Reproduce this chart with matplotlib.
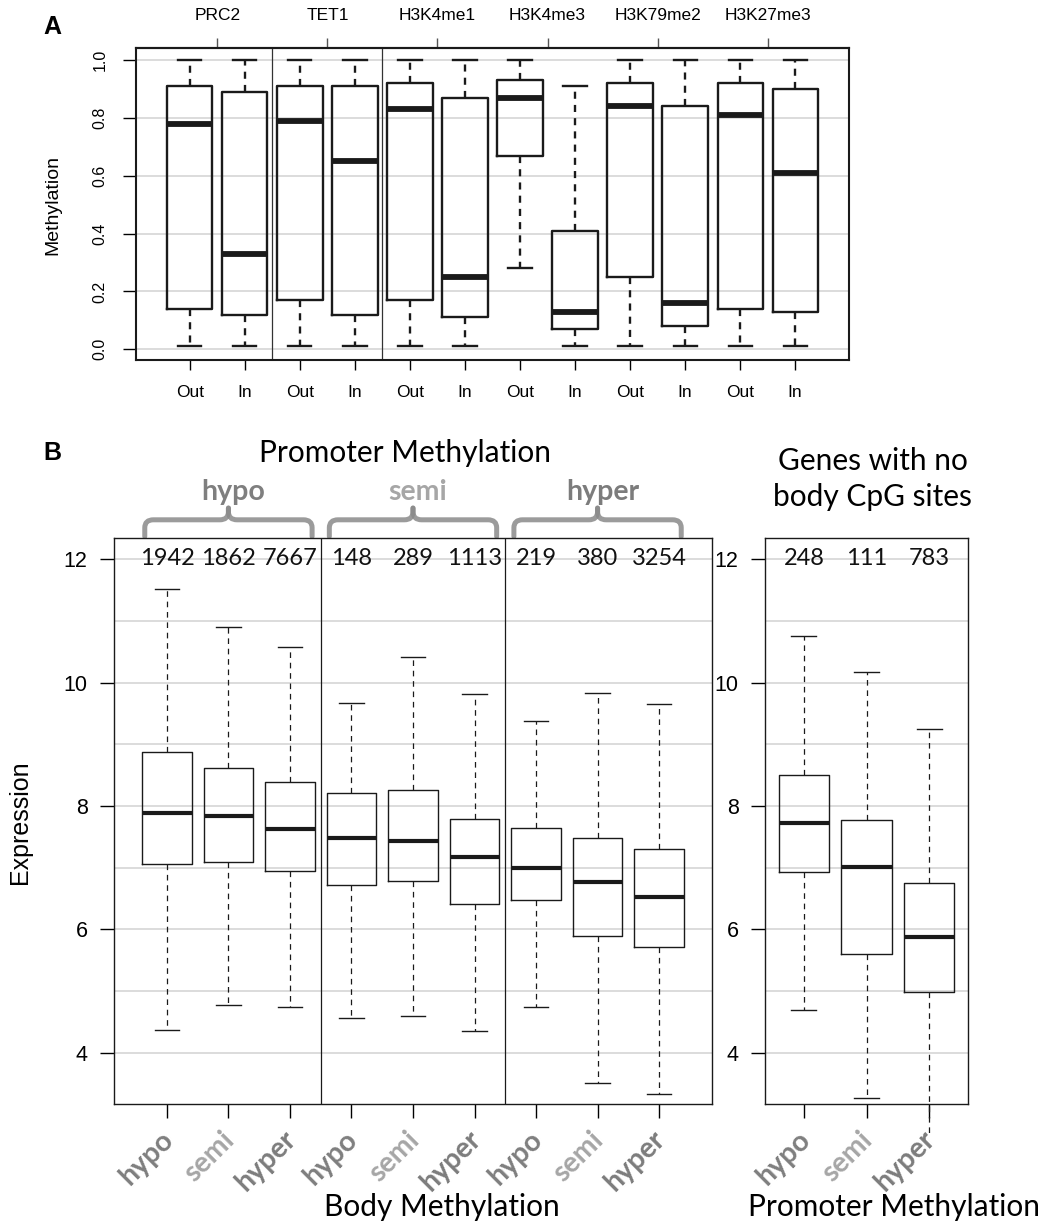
import numpy as np
import matplotlib.pyplot as plt
from matplotlib.path import Path
from matplotlib.patches import PathPatch

# ---------------------------------------------
# data
# ---------------------------------------------
# panel A: methylation inside / outside marks
A_groups = ["PRC2", "TET1", "H3K4me1", "H3K4me3", "H3K79me2", "H3K27me3"]
A_box_labels = ["Out", "In"] * 6
A_med = [0.78, 0.33, 0.79, 0.65, 0.83, 0.25, 0.87, 0.13, 0.84, 0.16, 0.81, 0.61]
A_q1 = [0.14, 0.12, 0.17, 0.12, 0.17, 0.11, 0.67, 0.07, 0.25, 0.08, 0.14, 0.13]
A_q3 = [0.91, 0.89, 0.91, 0.91, 0.92, 0.87, 0.93, 0.41, 0.92, 0.84, 0.92, 0.90]
A_lo = [0.01, 0.01, 0.01, 0.01, 0.01, 0.01, 0.28, 0.01, 0.01, 0.01, 0.01, 0.01]
A_hi = [1.0, 1.0, 1.0, 1.0, 1.0, 1.0, 1.0, 0.91, 1.0, 1.0, 1.0, 1.0]

# panel B: expression by body methylation, grouped by promoter methylation
levels = ["hypo", "semi", "hyper"]
level_colors = {"hypo": "#7f7f7f", "semi": "#a6a6a6", "hyper": "#7c7c7c"}
B_med = [7.89, 7.84, 7.63, 7.49, 7.44, 7.18, 7.00, 6.77, 6.53]
B_q1 = [7.06, 7.09, 6.94, 6.72, 6.79, 6.41, 6.47, 5.90, 5.71]
B_q3 = [8.875, 8.62, 8.39, 8.21, 8.26, 7.79, 7.64, 7.49, 7.30]
B_lo = [4.37, 4.78, 4.74, 4.56, 4.59, 4.36, 4.75, 3.51, 3.33]
B_hi = [11.52, 10.91, 10.57, 9.67, 10.42, 9.82, 9.38, 9.84, 9.66]
B_n = [1942, 1862, 7667, 148, 289, 1113, 219, 380, 3254]

# genes with no body CpG sites, by promoter methylation
C_med = [7.73, 7.01, 5.88]
C_q1 = [6.93, 5.60, 4.99]
C_q3 = [8.50, 7.77, 6.75]
C_lo = [4.69, 3.27, 2.70]
C_hi = [10.76, 10.17, 9.25]
C_n = [248, 111, 783]

W, H = 1046, 1222
INK = "#1a1a1a"
GRID = "#d2d2d2"
SANS = "Liberation Sans"
HUM = "Lato"
plt.rcParams["font.family"] = SANS


def make_stats(med, q1, q3, lo, hi):
    return [dict(med=m, q1=a, q3=b, whislo=l, whishi=h)
            for m, a, b, l, h in zip(med, q1, q3, lo, hi)]


fig = plt.figure(figsize=(W / 100, H / 100), dpi=100)

# ---------------------------------------------
# Panel A
# ---------------------------------------------
axA = fig.add_axes([136 / W, 1 - 360 / H, 713 / W, 312 / H])
posA = np.arange(1, len(A_med) + 1)
axA.bxp(make_stats(A_med, A_q1, A_q3, A_lo, A_hi), positions=posA,
        widths=0.82, capwidths=0.42, showfliers=False,
        boxprops=dict(color=INK, lw=1.7),
        medianprops=dict(color=INK, lw=4.2, solid_capstyle="butt"),
        whiskerprops=dict(color=INK, lw=1.7, linestyle=(0, (3, 2.6))),
        capprops=dict(color=INK, lw=1.7))
axA.set_xlim(0.02, 12.98)
axA.set_ylim(-0.037, 1.042)
yt = np.arange(0, 1.01, 0.2)
axA.set_yticks(yt, [f"{v:.1f}" for v in yt])
axA.tick_params(axis="y", length=9.4, width=1, pad=11, labelsize=11.5,
                labelrotation=90)
for lab in axA.get_yticklabels():
    lab.set_va("center")
axA.set_xticks(posA, A_box_labels)
axA.tick_params(axis="x", length=7, width=1, pad=11, labelsize=12.5)
axA.grid(axis="y", color=GRID, lw=1.1)
axA.set_axisbelow(True)
for s in axA.spines.values():
    s.set_linewidth(1.5)
    s.set_color(INK)
for x in [2.5, 4.5]:
    axA.axvline(x, color="#333333", lw=0.9)

secA = axA.secondary_xaxis("top")
secA.set_xticks(np.arange(len(A_groups)) * 2 + 1.5, A_groups)
secA.tick_params(length=7, width=1, pad=11, labelsize=12.5, color="#555555")
secA.spines["top"].set_linewidth(1.5)

fig.text(53 / W, 1 - 205 / H, "Methylation", rotation=90, ha="center",
         va="center", fontsize=14)
fig.text(52 / W, 1 - 27 / H, "A", ha="center", va="center", fontsize=18,
         fontweight="bold")

# ---------------------------------------------
# Panel B
# ---------------------------------------------
axB = fig.add_axes([114 / W, 1 - 1104 / H, 598 / W, 566 / H])
axC = fig.add_axes([765 / W, 1 - 1104 / H, 203 / W, 566 / H])

box_style = dict(widths=0.8, capwidths=0.4, showfliers=False,
                 boxprops=dict(color=INK, lw=1.0),
                 medianprops=dict(color=INK, lw=3.0, solid_capstyle="butt"),
                 whiskerprops=dict(color=INK, lw=0.9, linestyle=(0, (4.5, 3.8))),
                 capprops=dict(color=INK, lw=1.0))

posB = np.arange(1, len(B_med) + 1)
posC = np.arange(1, len(C_med) + 1)
axB.bxp(make_stats(B_med, B_q1, B_q3, B_lo, B_hi), positions=posB, **box_style)
artC = axC.bxp(make_stats(C_med, C_q1, C_q3, C_lo, C_hi), positions=posC,
               **box_style)
# the last lower whisker runs out of the plot region
artC["whiskers"][-2].set_clip_on(False)
artC["caps"][-2].set_visible(False)

axB.set_xlim(0.14, len(B_med) + 0.86)
axC.set_xlim(0.38, len(C_med) + 0.62)

for ax, pos, counts in [(axB, posB, B_n), (axC, posC, C_n)]:
    ax.set_ylim(3.17, 12.345)
    ax.set_yticks([4, 6, 8, 10, 12])
    ax.set_yticks(np.arange(4, 13), minor=True)
    ax.tick_params(axis="y", which="major", length=10, width=1, pad=9,
                   labelsize=15.5)
    ax.tick_params(axis="y", which="minor", length=0)
    ax.grid(axis="y", which="both", color=GRID, lw=1.1)
    ax.set_axisbelow(True)
    ax.set_xticks(pos, [])
    ax.tick_params(axis="x", length=10, width=1)
    for s in ax.spines.values():
        s.set_linewidth(1.0)
        s.set_color(INK)
    for p, n in zip(pos, counts):
        ax.text(p, 11.91, str(n), ha="center", va="baseline", fontsize=17,
                family=HUM, color="#111111")
    for i, p in enumerate(pos):
        lev = levels[i % 3]
        ax.annotate(lev, xy=(p, 0), xycoords=ax.get_xaxis_transform(),
                    xytext=(8, -16), textcoords="offset points",
                    rotation=45, ha="right", va="top", fontsize=20.5,
                    family=HUM, fontweight="bold", color=level_colors[lev],
                    annotation_clip=False)

for x in [3.5, 6.5]:
    axB.axvline(x, color=INK, lw=0.9)

# curly-ish brackets over promoter groups
def bracket(ax, x0, x1, yb, yf, yt, rx, ry, color):
    xc = (x0 + x1) / 2
    for a, sgn in [(x0, 1), (x1, -1)]:
        verts = [(a, yb), (a, yf - ry), (a, yf), (a + sgn * rx, yf),
                 (xc - sgn * rx, yf), (xc, yf), (xc, yf + ry), (xc, yt)]
        codes = [Path.MOVETO, Path.LINETO, Path.CURVE3, Path.CURVE3,
                 Path.LINETO, Path.CURVE3, Path.CURVE3, Path.LINETO]
        ax.add_patch(PathPatch(Path(verts, codes), fill=False, lw=3.6,
                               edgecolor=color, capstyle="round",
                               joinstyle="round", clip_on=False, alpha=0.85))


for g, lev in enumerate(levels):
    first = posB[g * 3]
    last = posB[g * 3 + 2]
    bracket(axB, first - 0.36, last + 0.36, 12.37, 12.64, 12.83, 0.14, 0.13,
            "#8a8a8a")
    axB.text((first + last) / 2 + 0.08, 13.09, lev, ha="center", va="center",
             fontsize=20.5, family=HUM, fontweight="bold",
             color=level_colors[lev])

axB.text(0.487, 1.150, "Promoter Methylation", transform=axB.transAxes,
         ha="center", va="center", fontsize=21.5, family=HUM)
axC.text(0.53, 1.104, "Genes with no\nbody CpG sites", transform=axC.transAxes,
         ha="center", va="center", fontsize=21.5, family=HUM, linespacing=1.35)

fig.text(442 / W, 1 - 1207 / H, "Body Methylation", ha="center", va="center",
         fontsize=21.5, family=HUM)
fig.text(894 / W, 1 - 1207 / H, "Promoter Methylation", ha="center",
         va="center", fontsize=21.5, family=HUM)
fig.text(20 / W, 1 - 822 / H, "Expression", rotation=90, ha="center",
         va="center", fontsize=18)
fig.text(52 / W, 1 - 453 / H, "B", ha="center", va="center", fontsize=18,
         fontweight="bold")

fig.savefig("out.png", dpi=100)
